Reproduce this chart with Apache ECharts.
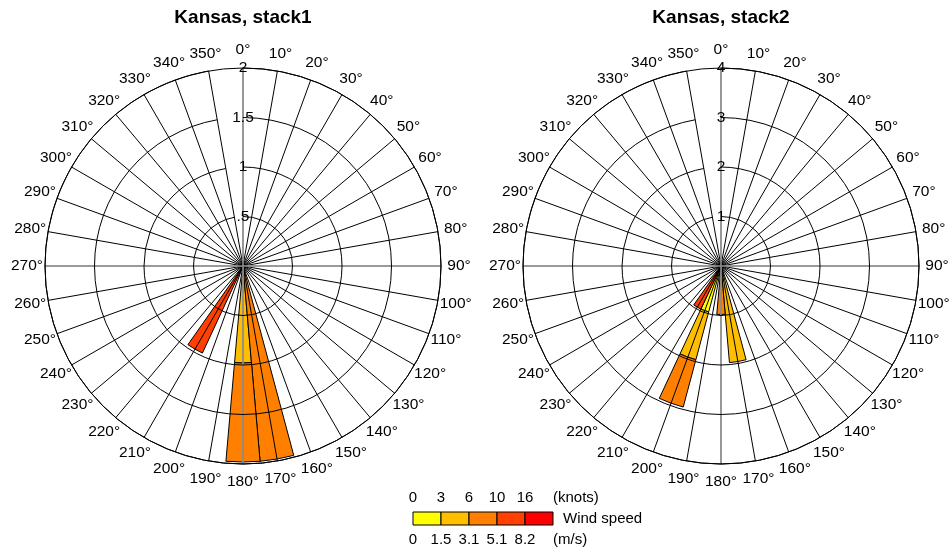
<!DOCTYPE html>
<html>
<head>
<meta charset="utf-8">
<script src="https://cdn.jsdelivr.net/npm/echarts@6/dist/echarts.min.js"></script>
<style>
html,body{margin:0;padding:0;background:#fff;}
#chart{width:951px;height:553px;}
</style>
</head>
<body>
<div id="chart"></div>
<script>
// ---------- data ----------
const directionLabels = ['0°','10°','20°','30°','40°','50°','60°','70°','80°','90°',
  '100°','110°','120°','130°','140°','150°','160°','170°','180°','190°','200°','210°',
  '220°','230°','240°','250°','260°','270°','280°','290°','300°','310°','320°','330°',
  '340°','350°'];
const directionStep = 10;

const binNames = ['0–1.5 m/s', '1.5–3.1 m/s', '3.1–5.1 m/s', '5.1–8.2 m/s', '>8.2 m/s'];
const binColors = ['#FFFF00', '#FFBF00', '#FF8000', '#FF4000', '#FF0000'];
const knotsLabels = ['0', '3', '6', '10', '16'];
const msLabels = ['0', '1.5', '3.1', '5.1', '8.2'];

// Kansas, stack1 (frequency per direction, per speed bin)
const stack1Directions = [170, 180, 210];
const stack1Bin1 = [0, 0, 0];
const stack1Bin2 = [0, 0.98, 0];
const stack1Bin3 = [1.98, 1.0, 0];
const stack1Bin4 = [0, 0, 0.97];
const stack1Bin5 = [0, 0, 0];
const stack1Max = 2;
const stack1Interval = 0.5;
const stack1TickLabels = ['', '.5', '1', '1.5', '2'];

// Kansas, stack2
const stack2Directions = [170, 180, 200, 210];
const stack2Bin1 = [0, 0, 0.96, 0];
const stack2Bin2 = [1.96, 0, 1.0, 0];
const stack2Bin3 = [0, 0.98, 0.99, 0];
const stack2Bin4 = [0, 0, 0, 0.96];
const stack2Bin5 = [0, 0, 0, 0];
const stack2Max = 4;
const stack2Interval = 1;
const stack2TickLabels = ['', '1', '2', '3', '4'];

// ---------- layout ----------
const FONT = '"Liberation Sans", Arial, Helvetica, sans-serif';
const R = 198;
const LABEL_RATIO = 216 / 198;
const centers = [[243, 266], [721, 266]];

function toFull(dirs, vals) {
  const out = directionLabels.map(() => null);
  dirs.forEach((d, j) => {
    const v = vals[j];
    out[Math.round(d / directionStep) % directionLabels.length] = v > 0 ? v : null;
  });
  return out;
}

const charts = [
  { title: 'Kansas, stack1', dirs: stack1Directions,
    bins: [stack1Bin1, stack1Bin2, stack1Bin3, stack1Bin4, stack1Bin5],
    max: stack1Max, interval: stack1Interval, ticks: stack1TickLabels },
  { title: 'Kansas, stack2', dirs: stack2Directions,
    bins: [stack2Bin1, stack2Bin2, stack2Bin3, stack2Bin4, stack2Bin5],
    max: stack2Max, interval: stack2Interval, ticks: stack2TickLabels }
];

const spokeColors = directionLabels.map((_, i) => (i % 9 === 0 ? '#8c8c8c' : '#000'));

const polar = [], angleAxis = [], radiusAxis = [], series = [], title = [];

charts.forEach((c, k) => {
  polar.push({ center: centers[k], radius: R });
  title.push({
    text: c.title, left: centers[k][0], top: 8, textAlign: 'center', padding: 0,
    textStyle: { fontSize: 19, fontWeight: 'bold', fontFamily: FONT, color: '#000' }
  });
  angleAxis.push({
    polarIndex: k, type: 'category', data: directionLabels, boundaryGap: false,
    startAngle: 90, clockwise: true, z: 3,
    axisLine: { show: false },
    axisTick: { show: false, interval: 0 },
    axisLabel: { show: false, interval: 0 },
    splitLine: { show: true, interval: 0, lineStyle: { color: spokeColors, width: 1 } }
  });
  radiusAxis.push({
    polarIndex: k, type: 'value', min: 0, max: c.max, interval: c.interval, z: 6,
    axisLine: { show: false }, axisTick: { show: false },
    axisLabel: {
      show: true, margin: 0, align: 'center', verticalAlign: 'middle',
      color: '#000', fontSize: 15.5, fontFamily: FONT,
      formatter: (v, i) => c.ticks[i] !== undefined ? c.ticks[i] : String(v)
    },
    splitLine: { show: true, lineStyle: { color: '#000', width: 1 } }
  });
  c.bins.forEach((vals, b) => {
    series.push({
      name: binNames[b], type: 'bar', coordinateSystem: 'polar', polarIndex: k,
      stack: 'rose' + k, barWidth: '100%', z: 2,
      itemStyle: { color: binColors[b], borderColor: '#000', borderWidth: 1 },
      data: toFull(c.dirs, vals)
    });
  });
  // direction labels centred at a fixed radius outside the circle
  series.push({
    type: 'custom', coordinateSystem: 'polar', polarIndex: k, silent: true, z: 7, clip: false,
    data: directionLabels.map((_, i) => [c.max * LABEL_RATIO, i]),
    renderItem: (params, api) => {
      const p = api.coord([api.value(0), api.value(1)]);
      return {
        type: 'text', x: p[0], y: p[1],
        style: { text: directionLabels[params.dataIndex], fill: '#000',
          fontSize: 15.5, fontFamily: FONT, align: 'center', verticalAlign: 'middle' }
      };
    }
  });
});

// full outer circle + gray cross (0/90/180/270) on top of spokes
charts.forEach((c, k) => {
  const pi = polar.length;
  polar.push({ center: centers[k], radius: R });
  angleAxis.push({
    polarIndex: pi, type: 'value', min: 0, max: 360, interval: 90, startAngle: 90, z: 4,
    axisLine: { show: true, lineStyle: { color: '#000', width: 1 } },
    axisTick: { show: false }, axisLabel: { show: false },
    splitLine: { show: true, lineStyle: { color: '#8c8c8c', width: 1.6 } }
  });
  radiusAxis.push({ polarIndex: pi, type: 'value', min: 0, max: 1, show: false });
});

// legend (colour bar)
const legX0 = 413, boxW = 28, boxY = 512, boxH = 13;
const graphic = [];
binColors.forEach((col, i) => {
  graphic.push({ type: 'rect', shape: { x: legX0 + i * boxW, y: boxY, width: boxW, height: boxH },
    style: { fill: col, stroke: '#000', lineWidth: 1 } });
});
const txt = (text, x, y, align) => ({ type: 'text', x, y,
  style: { text, fill: '#000', fontSize: 15, fontFamily: FONT, align: align || 'center', verticalAlign: 'middle' } });
knotsLabels.forEach((t, i) => graphic.push(txt(t, legX0 + i * boxW, 498)));
msLabels.forEach((t, i) => graphic.push(txt(t, legX0 + i * boxW, 540)));
graphic.push(txt('(knots)', legX0 + binColors.length * boxW, 498, 'left'));
graphic.push(txt('(m/s)', legX0 + binColors.length * boxW, 540, 'left'));
graphic.push(txt('Wind speed', legX0 + binColors.length * boxW + 10, 519, 'left'));

const chart = echarts.init(document.getElementById('chart'), null, { renderer: 'canvas' });
chart.setOption({
  backgroundColor: '#fff',
  animation: false,
  title, polar, angleAxis, radiusAxis, series, graphic
});
</script>
</body>
</html>
